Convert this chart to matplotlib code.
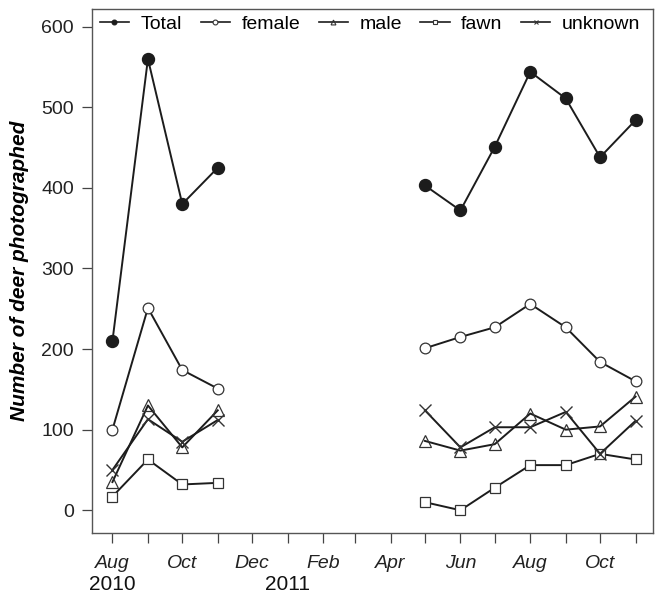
import numpy as np
import matplotlib
matplotlib.use("Agg")
import matplotlib.pyplot as plt
import matplotlib.dates as mdates
from matplotlib.lines import Line2D

plt.rcParams['font.family'] = ['Liberation Sans', 'DejaVu Sans']

# survey months (first of month)
dates_2010 = np.array(['2010-08-01', '2010-09-01', '2010-10-01', '2010-11-01'], dtype='datetime64[D]')
dates_2011 = np.array(['2011-05-01', '2011-06-01', '2011-07-01', '2011-08-01',
                       '2011-09-01', '2011-10-01', '2011-11-01'], dtype='datetime64[D]')

total_2010 = [210, 560, 380, 425]
total_2011 = [403, 372, 451, 544, 511, 438, 484]
female_2010 = [100, 251, 174, 151]
female_2011 = [201, 215, 227, 256, 227, 184, 160]
male_2010 = [35, 130, 78, 124]
male_2011 = [86, 74, 82, 120, 100, 104, 141]
fawn_2010 = [17, 63, 32, 34]
fawn_2011 = [10, 0, 28, 56, 56, 70, 63]
unknown_2010 = [50, 113, 85, 112]
unknown_2011 = [124, 78, 103, 103, 122, 70, 111]

labels = ['Total', 'female', 'male', 'fawn', 'unknown']
series = [(total_2010, total_2011), (female_2010, female_2011), (male_2010, male_2011),
          (fawn_2010, fawn_2011), (unknown_2010, unknown_2011)]

line_col = '#1c1c1c'
styles = [
    dict(marker='o', ms=8.6, mfc='#1c1c1c', mec='#1c1c1c', mew=1.0),
    dict(marker='o', ms=7.7, mfc='white', mec='#333333', mew=0.9),
    dict(marker='^', ms=9.2, mfc='none', mec='#333333', mew=0.9),
    dict(marker='s', ms=7.2, mfc='white', mec='#333333', mew=0.9),
    dict(marker='x', ms=9.0, mfc='none', mec='#333333', mew=1.0),
]

fig = plt.figure(figsize=(6.56, 5.98), dpi=100)
ax = fig.add_axes([0.140, 0.109, 0.855, 0.876])

for (s10, s11), st in zip(series, styles):
    ax.plot(dates_2010, s10, color=line_col, lw=1.4, **st)
    ax.plot(dates_2011, s11, color=line_col, lw=1.4, **st)

# axes limits
ax.set_xlim(np.datetime64('2010-07-14'), np.datetime64('2011-11-16'))
ax.set_ylim(-28, 622)

# y axis
ax.set_yticks([0, 100, 200, 300, 400, 500, 600])
ax.set_ylabel('Number of deer photographed', fontsize=15, fontweight='bold',
              fontstyle='italic', labelpad=9)
ax.tick_params(axis='y', direction='out', length=7, width=0.9, colors='#444444',
               labelcolor='#222222', labelsize=14, pad=6)

# x axis: monthly ticks, label every other month
ticks = np.arange(np.datetime64('2010-08'), np.datetime64('2011-12'), np.timedelta64(1, 'M')).astype('datetime64[D]')
ax.set_xticks(ticks)
tick_labels = [mdates.num2date(mdates.date2num(t)).strftime('%b') if i % 2 == 0 else ''
               for i, t in enumerate(ticks)]
ax.set_xticklabels(tick_labels, fontstyle='italic')
ax.tick_params(axis='x', direction='out', length=7, width=0.9, colors='#444444',
               labelcolor='#222222', labelsize=14, pad=9)

for yr, d in [('2010', '2010-08-01'), ('2011', '2011-01-01')]:
    ax.annotate(yr, xy=(np.datetime64(d), 0), xycoords=('data', 'axes fraction'),
                xytext=(0, -37.5), textcoords='offset points', ha='center', va='center',
                fontsize=15, color='#111111')

for sp in ax.spines.values():
    sp.set_color('#555555')
    sp.set_linewidth(1.0)

# legend with small markers
handles = []
for st in styles:
    small = dict(st)
    small['ms'] = 3.5
    small['mew'] = 0.8
    handles.append(Line2D([], [], color=line_col, lw=1.2, **small))
ax.legend(handles, labels, loc='upper left', bbox_to_anchor=(-0.01, 1.014), ncol=5,
          frameon=False, fontsize=14, handlelength=1.5, handletextpad=0.6,
          columnspacing=0.95, borderaxespad=0.3)

fig.savefig('out.png', dpi=100)
